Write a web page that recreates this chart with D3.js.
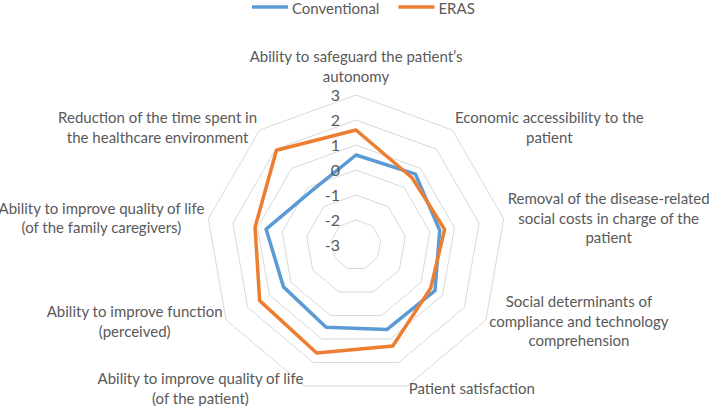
<!DOCTYPE html>
<html>
<head>
<meta charset="utf-8">
<script src="https://cdn.jsdelivr.net/npm/d3@7"></script>
<style>
  html, body { margin: 0; padding: 0; background: #fff; }
  svg { display: block; font-family: Lato, "Open Sans", sans-serif; }
  text { fill: #595959; }
</style>
</head>
<body>
<svg id="chart" width="709" height="406"></svg>
<script>
// axis labels, clockwise from the top; "\n" breaks a line
var categories = [
  "Ability to safeguard the patient\u2019s\nautonomy",
  "Economic accessibility to the\npatient",
  "Removal of the disease-related\nsocial costs in charge of the\npatient",
  "Social determinants of\ncompliance and technology\ncomprehension",
  "Patient satisfaction",
  "Ability to improve quality of life\n(of the patient)",
  "Ability to improve function\n(perceived)",
  "Ability to improve quality of life\n(of the family caregivers)",
  "Reduction of the time spent in\nthe healthcare environment"
];
var conventional = [0.6, 0.7, 0.4, 0.65, 0.6, 0.5, 0.35, 0.65, -0.2];
var eras = [1.6, 0.5, 0.6, 0.45, 1.3, 1.6, 1.45, 1.1, 1.95];
var ticks = [-3, -2, -1, 0, 1, 2, 3];
var seriesNames = ["Conventional", "ERAS"];
var colors = ["#5b9bd5", "#ed7d31"];

var svg = d3.select("#chart"),
  cx = 356,
  cy = 245,
  outerRadius = 150,
  fontSize = 15,
  lineH = 19.5,
  n = categories.length,
  r = d3.scaleLinear().domain([-3, 3]).range([0, outerRadius]),
  angle = function(i) { return i * 2 * Math.PI / n; },
  plot = svg.append("g").attr("transform", "translate(" + cx + "," + cy + ")");

// grid rings (polygons)
var ring = d3.lineRadial()
  .angle(function(d, i) { return angle(i); })
  .radius(function(d) { return r(d); })
  .curve(d3.curveLinearClosed);

plot.append("g").attr("class", "grid")
  .selectAll("path")
  .data(ticks.filter(function(t) { return t > -3; }))
  .enter().append("path")
    .attr("d", function(t) { return ring(d3.range(n).map(function() { return t; })); })
    .attr("fill", "none")
    .attr("stroke", "#d9d9d9")
    .attr("stroke-width", 1);

// series
[conventional, eras].forEach(function(vals, k) {
  plot.append("path")
    .attr("d", ring(vals))
    .attr("fill", "none")
    .attr("stroke", colors[k])
    .attr("stroke-width", 3.5)
    .attr("stroke-linejoin", "round");
});

// value tick labels
plot.append("g").attr("class", "ticks")
  .selectAll("text")
  .data(ticks)
  .enter().append("text")
    .attr("x", -16)
    .attr("y", function(t) { return -r(t); })
    .attr("dy", "0.35em")
    .attr("text-anchor", "end")
    .attr("font-size", 16)
    .text(function(t) { return t; });

// category labels: block touches the ring vertex, lines centred inside it
categories.forEach(function(label, i) {
  var a = angle(i),
    s = Math.sin(a),
    c = Math.cos(a),
    lines = label.split("\n"),
    px = outerRadius * s,
    py = -outerRadius * c,
    t = plot.append("text")
      .attr("text-anchor", "middle")
      .attr("font-size", fontSize),
    spans = lines.map(function(l) { return t.append("tspan").text(l); }),
    w = d3.max(spans, function(sp) { return sp.node().getComputedTextLength(); }),
    x, yc;

  if (Math.abs(s) < 0.1) {
    x = px;
    yc = py - 9 - (lines.length * lineH) / 2;
  } else if (s > 0) {
    x = px + 4 * s + w / 2;
    yc = py - 3 * c;
  } else {
    x = px + 4 * s - w / 2;
    yc = py - 3 * c;
  }

  spans.forEach(function(sp, j) {
    sp.attr("x", x)
      .attr("y", yc + (j - (lines.length - 1) / 2) * lineH)
      .attr("dy", "0.35em");
  });
});

// legend
var legend = svg.append("g").attr("class", "legend"),
  lx = 252;
seriesNames.forEach(function(name, k) {
  legend.append("line")
    .attr("x1", lx).attr("x2", lx + 36)
    .attr("y1", 7).attr("y2", 7)
    .attr("stroke", colors[k])
    .attr("stroke-width", 3.5);
  var txt = legend.append("text")
    .attr("x", lx + 40)
    .attr("y", 8.5)
    .attr("dy", "0.35em")
    .attr("font-size", fontSize)
    .text(name);
  lx += 40 + txt.node().getComputedTextLength() + 19;
});
</script>
</body>
</html>
